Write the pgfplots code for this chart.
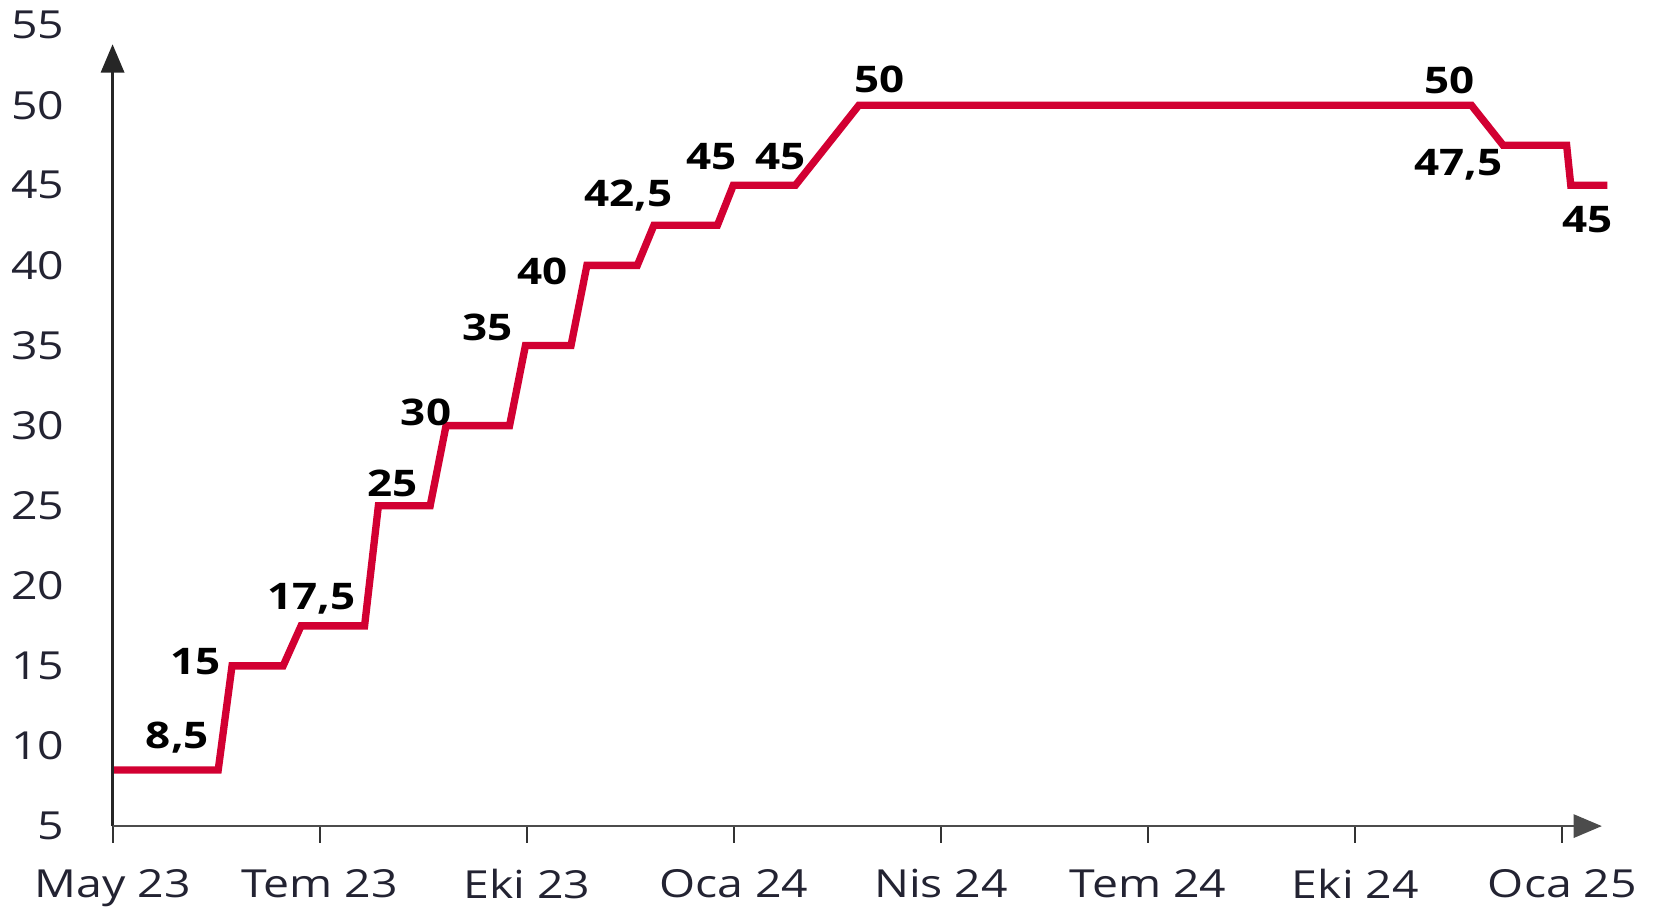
\documentclass[border=0pt]{standalone}
\usepackage{fontspec}
\setmainfont{Open Sans}[FakeStretch=1.2]
\usepackage{pgfplots}
\pgfplotsset{compat=1.18}
\usetikzlibrary{arrows.meta}
\definecolor{polred}{RGB}{210,0,50}
\definecolor{ticktxt}{RGB}{35,35,50}

\pgfplotstableread{
x y
0 8.5
1.53 8.5
1.73 15
2.47 15
2.73 17.5
3.65 17.5
3.85 25
4.60 25
4.83 30
5.75 30
5.98 35
6.64 35
6.87 40
7.60 40
7.84 42.5
8.76 42.5
8.99 45
9.89 45
10.81 50
19.68 50
20.14 47.5
21.06 47.5
21.12 45
21.65 45
}\ratedata

\pgfplotstableread{
x y lab
0.94 10.5 8,5
1.20 15.25 15
2.88 19.2 17,5
4.05 26.4 25
4.54 30.8 30
5.43 36.1 35
6.23 39.6 40
7.47 44.35 42,5
8.67 46.8 45
9.68 46.8 45
11.11 51.6 50
19.36 51.56 50
19.49 46.27 47,5
21.36 42.83 45
}\labeldata

\begin{document}
\begin{tikzpicture}
\begin{axis}[
  scale only axis,
  width=448.6pt, height=240.4pt,
  xmin=0, xmax=21.65,
  ymin=5, ymax=55,
  axis line style={draw=none},
  clip=false,
  font=\fontsize{11.6}{13}\selectfont,
  /pgf/number format/assume math mode=true,
  xtick={0,3,6,9,12,15,18,21},
  xticklabels={May 23,Tem 23,Eki 23,Oca 24,Nis 24,Tem 24,Eki 24,Oca 25},
  ytick={5,10,...,55},
  tick align=outside,
  xtick pos=bottom,
  ytick pos=left,
  major tick length=5pt,
  x tick style={black!80, line width=0.6pt},
  y tick style={draw=none},
  tick label style={text=ticktxt},
  x tick label style={inner sep=0.5pt, yshift=-7.2pt},
  y tick label style={xshift=-6pt},
]
\addplot[polred, line width=2.2pt, line join=miter] table[x=x,y=y] {\ratedata};
\addplot[draw=none, nodes near coords, point meta=explicit symbolic,
  nodes near coords style={anchor=center, font=\fontsize{11}{13}\selectfont\bfseries, text=black}]
  table[x=x,y=y,meta=lab] {\labeldata};
\draw[black!85, line width=0.7pt, -{Triangle[length=8.5pt,width=7pt]}] (axis cs:0,5) -- (axis cs:0,53.8);
\draw[black!70, line width=0.7pt, -{Triangle[length=8.5pt,width=7pt]}] (axis cs:0,5) -- (axis cs:21.57,5);
\end{axis}
\path (current bounding box.east) -- ++(7pt,0);
\end{tikzpicture}
\end{document}
